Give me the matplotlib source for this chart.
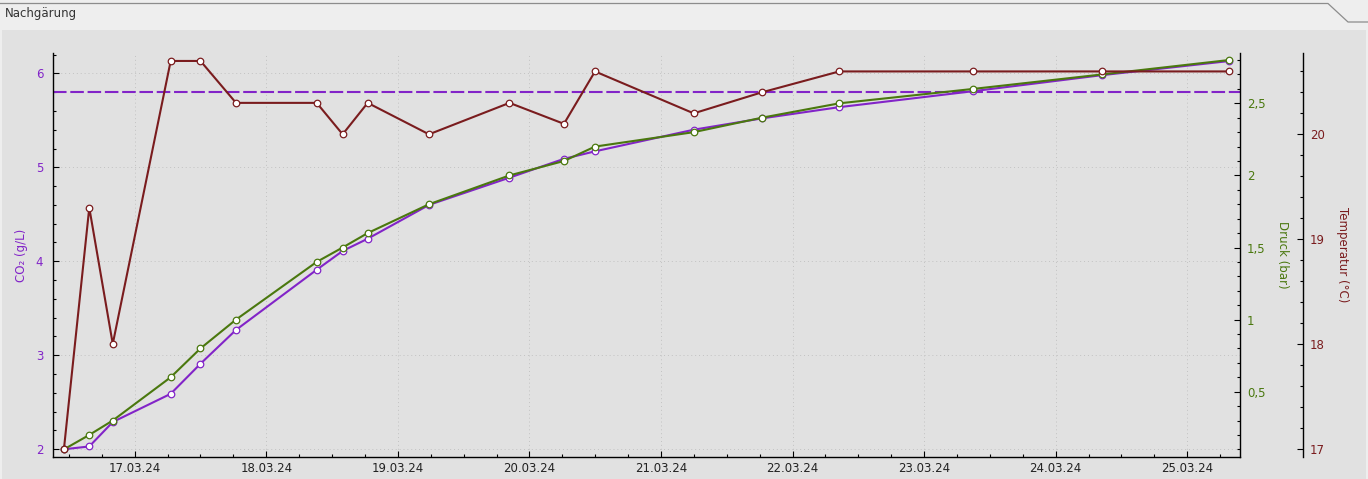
import matplotlib
matplotlib.use('Agg')
import matplotlib.pyplot as plt
import matplotlib.dates as mdates
from matplotlib.ticker import MultipleLocator, FuncFormatter
from matplotlib.patches import Rectangle
from matplotlib.lines import Line2D
import pandas as pd

# ---------------- data ----------------
times = ["2024-03-16 11:06", "2024-03-16 15:43", "2024-03-16 20:00",
         "2024-03-17 06:34", "2024-03-17 12:00", "2024-03-17 18:29",
         "2024-03-18 09:12", "2024-03-18 13:56", "2024-03-18 18:30",
         "2024-03-19 05:41", "2024-03-19 20:22", "2024-03-20 06:18",
         "2024-03-20 11:58", "2024-03-21 05:58", "2024-03-21 18:22",
         "2024-03-22 08:31", "2024-03-23 08:58", "2024-03-24 08:23",
         "2024-03-25 07:33"]
co2 = [2.00, 2.03, 2.29, 2.59, 2.91, 3.27, 3.91, 4.11, 4.24, 4.60,
       4.89, 5.09, 5.17, 5.40, 5.52, 5.64, 5.81, 5.98, 6.13]
pressure = [0.1, 0.2, 0.3, 0.6, 0.8, 1.0, 1.4, 1.5, 1.6, 1.8,
            2.0, 2.1, 2.2, 2.3, 2.4, 2.5, 2.6, 2.7, 2.8]
temperature = [17.0, 19.3, 18.0, 20.7, 20.7, 20.3, 20.3, 20.0, 20.3, 20.0,
               20.3, 20.1, 20.6, 20.2, 20.4, 20.6, 20.6, 20.6, 20.6]
co2_target = 5.8

title = "Nachgärung"
label_co2 = "CO₂ (g/L)"
label_pressure = "Druck (bar)"
label_temp = "Temperatur (°C)"

# ---------------- style ----------------
C_CO2 = '#8224c8'
C_P = '#4a780e'
C_T = '#7a1c1e'
FS = 8.5

W, H = 1368, 479
fig = plt.figure(figsize=(W / 100, H / 100), dpi=100, facecolor='#eeeeee')
fig.patches.append(Rectangle((2 / W, 0), 1364 / W, (H - 30) / H,
                             transform=fig.transFigure, facecolor='#e1e1e1',
                             edgecolor='none', zorder=-5))
fig.lines.append(Line2D([0, 1328 / W, 1348 / W, 1], [1 - 3.5 / H, 1 - 3.5 / H, 1 - 22 / H, 1 - 22 / H],
                        transform=fig.transFigure, color='#8c8c8c', lw=0.9, zorder=-4))
fig.text(5 / W, 1 - 13 / H, title, ha='left', va='center', fontsize=FS, color='#333333')

left, right, top, bottom = 53, 1240, 53.3, 456.7
ax1 = fig.add_axes([left / W, 1 - bottom / H, (right - left) / W, (bottom - top) / H])
ax1.set_facecolor('#e1e1e1')
ax2 = ax1.twinx()
ax3 = ax1.twinx()
ax3.spines['right'].set_position(('axes', (1303 - left) / (right - left)))

t = pd.to_datetime(times)

ax1.axhline(co2_target, color=C_CO2, lw=1.5, linestyle=(0, (6.5, 1.8)), zorder=1)
mk = dict(marker='o', markersize=4.7, markerfacecolor='white', markeredgewidth=0.9, lw=1.5)
ax1.plot(t, co2, color=C_CO2, zorder=3, **mk)
ax2.plot(t, pressure, color=C_P, zorder=3, **mk)
ax3.plot(t, temperature, color=C_T, zorder=3, **mk)

ax1.set_xlim(pd.Timestamp('2024-03-16 09:06'), pd.Timestamp('2024-03-25 09:37'))
ax1.set_ylim(1.921, 6.213)
ax2.set_ylim(0.049, 2.847)
ax3.set_ylim(16.924, 20.773)

# spines
for ax in (ax1, ax2, ax3):
    ax.spines['top'].set_visible(False)
    for s in ax.spines.values():
        s.set_linewidth(1.0)
        s.set_color('black')
ax1.spines['right'].set_visible(False)
for ax in (ax2, ax3):
    ax.spines['left'].set_visible(False)
    ax.spines['bottom'].set_visible(False)

# ticks
ax1.xaxis.set_major_locator(mdates.DayLocator())
ax1.xaxis.set_minor_locator(mdates.HourLocator(byhour=[6, 12, 18]))
ax1.xaxis.set_major_formatter(mdates.DateFormatter('%d.%m.%y'))
ax1.yaxis.set_major_locator(MultipleLocator(1))
ax1.yaxis.set_minor_locator(MultipleLocator(0.2))
ax2.yaxis.set_major_locator(MultipleLocator(0.5))
ax2.yaxis.set_minor_locator(MultipleLocator(0.1))
ax2.yaxis.set_major_formatter(FuncFormatter(lambda v, p: ('%g' % v).replace('.', ',')))
ax3.yaxis.set_major_locator(MultipleLocator(1))
ax3.yaxis.set_minor_locator(MultipleLocator(0.2))
ax3.yaxis.set_major_formatter(FuncFormatter(lambda v, p: '%g' % v))

for ax in (ax1, ax2, ax3):
    ax.tick_params(which='major', direction='in', length=4.2, width=0.8, labelsize=FS)
    ax.tick_params(which='minor', direction='in', length=2.2, width=0.8)
ax1.tick_params(axis='x', which='major', colors='black', labelcolor='#222222', pad=3.5)
ax1.tick_params(axis='y', which='both', colors='black')
ax1.tick_params(axis='y', labelcolor=C_CO2, pad=7)
ax2.tick_params(axis='y', which='both', colors='black')
ax2.tick_params(axis='y', labelcolor=C_P, pad=5)
ax3.tick_params(axis='y', which='both', colors='black')
ax3.tick_params(axis='y', labelcolor=C_T, pad=5)

ax1.grid(which='major', axis='both', linestyle=(0, (1, 3)), color='#c2c2c2', lw=0.7)
ax1.set_axisbelow(True)

# axis labels
fig.text(21.7 / W, 1 - 255 / H, label_co2, rotation=90, ha='center', va='center',
         fontsize=FS, color=C_CO2)
fig.text(1283 / W, 1 - 255 / H, label_pressure, rotation=-90, ha='center', va='center',
         fontsize=FS, color=C_P)
fig.text(1343 / W, 1 - 255 / H, label_temp, rotation=-90, ha='center', va='center',
         fontsize=FS, color=C_T)

fig.savefig('out.png', dpi=100, facecolor=fig.get_facecolor())
